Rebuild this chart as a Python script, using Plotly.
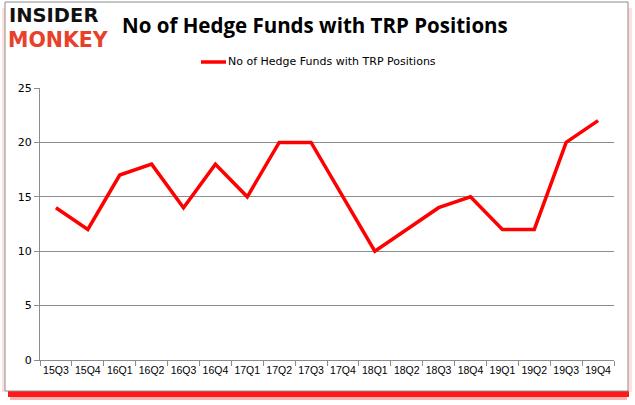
import plotly.graph_objects as go

quarters = ["15Q3", "15Q4", "16Q1", "16Q2", "16Q3", "16Q4", "17Q1", "17Q2", "17Q3",
            "17Q4", "18Q1", "18Q2", "18Q3", "18Q4", "19Q1", "19Q2", "19Q3", "19Q4"]
funds = [14, 12, 17, 18, 14, 18, 15, 20, 20, 15, 10, 12, 14, 15, 12, 12, 20, 22]
series_name = "No of Hedge Funds with TRP Positions"
title_text = "No of Hedge Funds with TRP Positions"
y_ticks = [0, 5, 10, 15, 20, 25]

W, H = 635, 405
# plot area in screenshot pixels: x 40..614, y 88..360
L, T = 40, 88
R = W - 614
B = H - 360
pw, ph = W - L - R, H - T - B


def px_x(sx):
    return (sx - L) / pw


def px_y(sy):
    return (H - B - sy) / ph


fig = go.Figure()
fig.add_trace(go.Scatter(
    x=quarters, y=funds, mode="lines", name=series_name,
    line=dict(color="#ff0000", width=3.5), showlegend=False, hoverinfo="skip",
))

shapes = [
    # red shadow under frame
    dict(type="rect", xref="paper", yref="paper",
         x0=px_x(8), x1=px_x(629), y0=px_y(391), y1=px_y(397),
         fillcolor="rgba(255,0,0,0.9)", line=dict(width=0), layer="below"),
    dict(type="rect", xref="paper", yref="paper",
         x0=px_x(10), x1=px_x(627), y0=px_y(397), y1=px_y(400),
         fillcolor="rgba(255,0,0,0.3)", line=dict(width=0), layer="below"),
    dict(type="rect", xref="paper", yref="paper",
         x0=px_x(628), x1=px_x(632), y0=px_y(8), y1=px_y(392),
         fillcolor="rgba(255,150,150,0.3)", line=dict(width=0), layer="below"),
    dict(type="rect", xref="paper", yref="paper",
         x0=px_x(2), x1=px_x(5), y0=px_y(8), y1=px_y(392),
         fillcolor="rgba(255,150,150,0.3)", line=dict(width=0), layer="below"),
    # frame
    dict(type="rect", xref="paper", yref="paper",
         x0=px_x(5), x1=px_x(628), y0=px_y(2), y1=px_y(391),
         fillcolor="white", line=dict(color="#8c8c8c", width=1), layer="below"),
    # legend line sample
    dict(type="line", xref="paper", yref="paper",
         x0=px_x(201), x1=px_x(226), y0=px_y(62), y1=px_y(62),
         line=dict(color="#ff0000", width=3.5)),
]

annotations = [
    dict(text="<b>INSIDER</b>", xref="paper", yref="paper", x=px_x(7), y=px_y(15.5),
         xanchor="left", yanchor="middle", showarrow=False,
         font=dict(family="DejaVu Sans", size=19.5, color="#111111")),
    dict(text="<b>MONKEY</b>", xref="paper", yref="paper", x=px_x(6), y=px_y(40),
         xanchor="left", yanchor="middle", showarrow=False,
         font=dict(family="DejaVu Sans", size=20.5, color="#e8402a")),
    dict(text="<b>" + title_text + "</b>", xref="paper", yref="paper", x=px_x(120), y=px_y(25),
         xanchor="left", yanchor="middle", showarrow=False,
         font=dict(family="Open Sans", size=20.5, color="#000000")),
    dict(text=series_name, xref="paper", yref="paper", x=px_x(226), y=px_y(62),
         xanchor="left", yanchor="middle", showarrow=False,
         font=dict(family="DejaVu Sans", size=11, color="#000000")),
]

fig.update_layout(
    width=W, height=H,
    margin=dict(l=L, r=R, t=T, b=B, autoexpand=False),
    paper_bgcolor="white", plot_bgcolor="white",
    shapes=shapes, annotations=annotations, hovermode=False,
    xaxis=dict(
        type="category", showline=True, linecolor="#8c8c8c", linewidth=1,
        ticks="outside", tickson="boundaries", ticklen=5, tickcolor="#8c8c8c",
        showgrid=False, tickangle=0, automargin=False,
        tickfont=dict(family="Liberation Sans", size=10.5, color="#000000"),
        range=[-0.5, len(quarters) - 0.5],
    ),
    yaxis=dict(
        range=[0, 25], tickvals=y_ticks, showline=True, linecolor="#8c8c8c", linewidth=1,
        ticks="outside", ticklen=5, tickcolor="#8c8c8c", automargin=False,
        showgrid=True, gridcolor="#8c8c8c", gridwidth=1, zeroline=False,
        tickfont=dict(family="DejaVu Sans", size=11, color="#000000"),
    ),
)

fig.write_html(
    "out.html",
    config={"displayModeBar": False, "staticPlot": True},
    post_script="document.body.style.margin='0';document.body.style.padding='0';"
                "document.body.style.overflow='hidden';",
)
